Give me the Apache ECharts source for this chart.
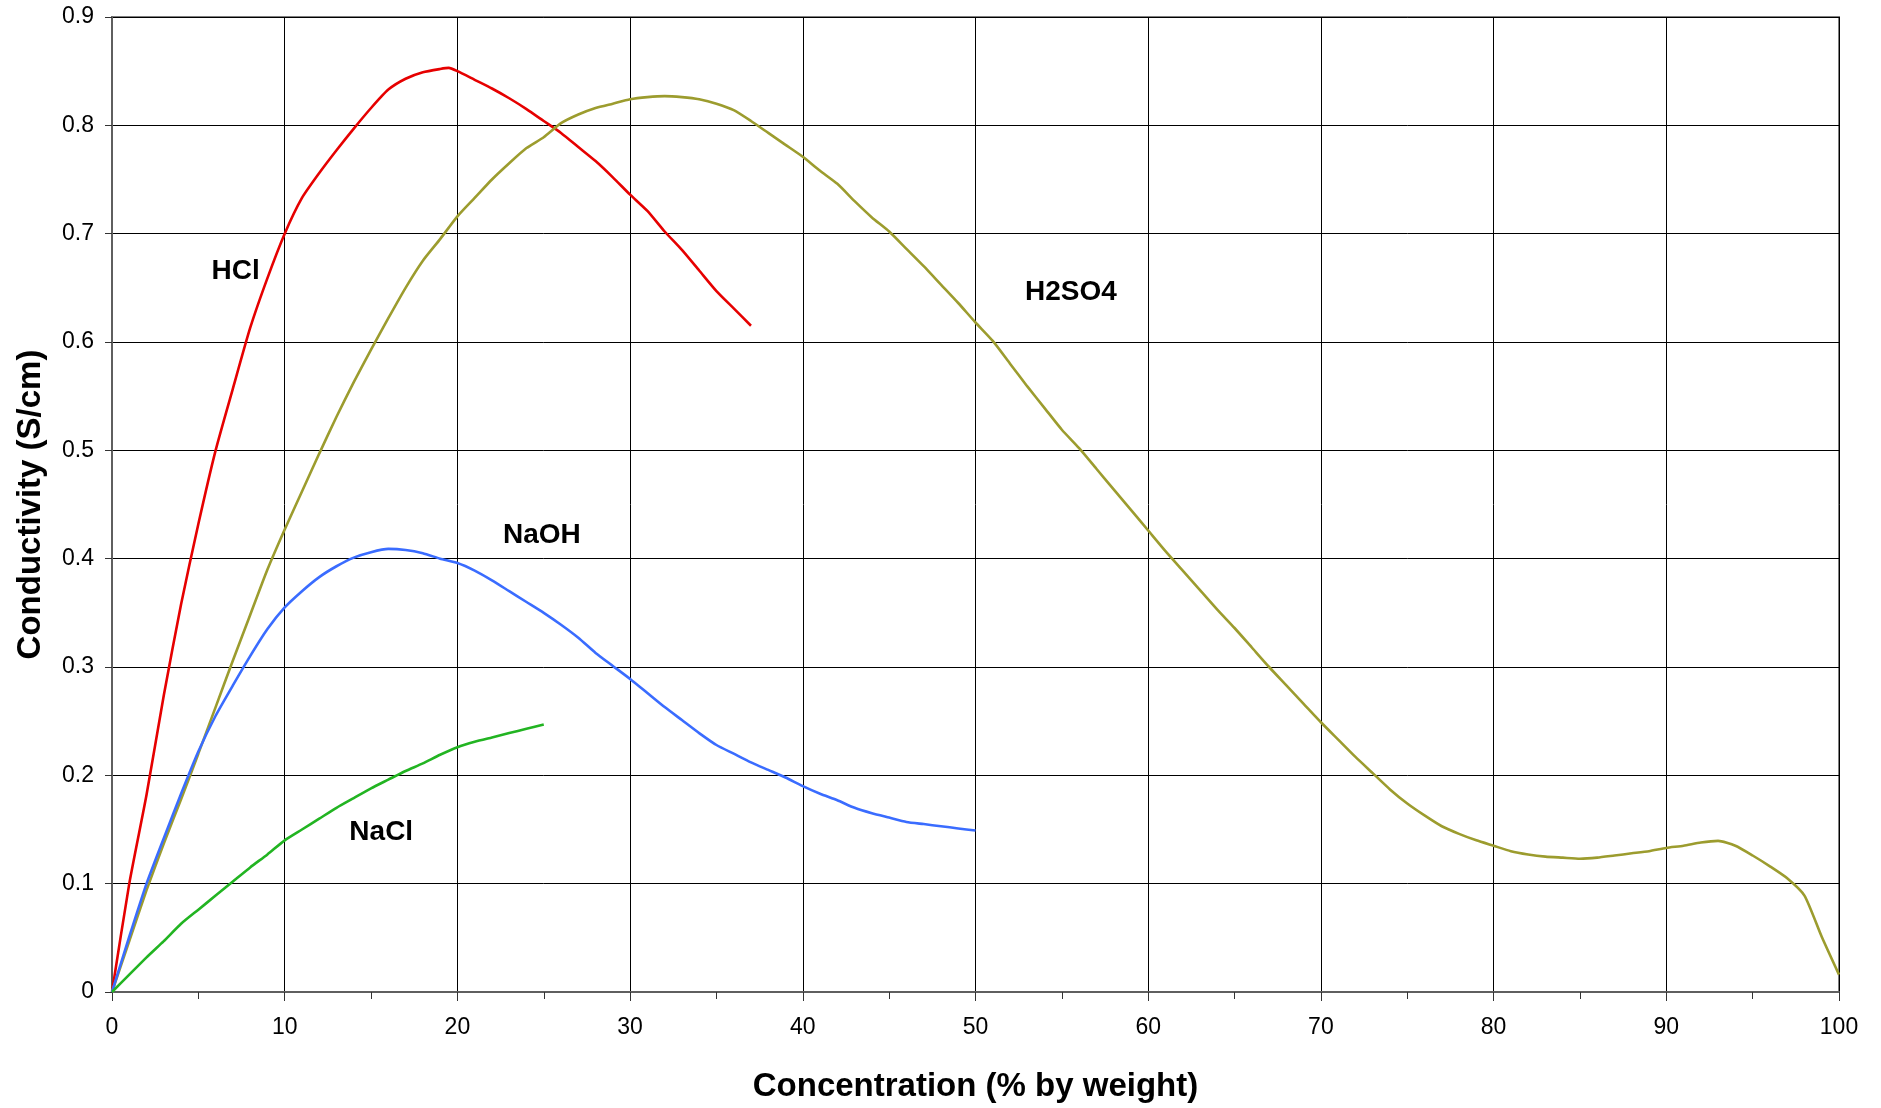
<!DOCTYPE html>
<html>
<head>
<meta charset="utf-8">
<script src="https://cdn.jsdelivr.net/npm/echarts@6/dist/echarts.min.js"></script>
<style>
html,body{margin:0;padding:0;background:#fff;}
#chart{width:1881px;height:1108px;}
</style>
</head>
<body>
<div id="chart"></div>
<script>
// Concentration (% by weight) / Conductivity (S/cm)
var hclX = [0,1,2,3,4,5,6,7,8,9,10,11,12,13,14,15,16,17,18,19,19.5,20,21,22,23,24,25,26,27,28,29,30,31,32,33,34,35,36,37];
var hclY = [0,0.1,0.182,0.274,0.358,0.432,0.5,0.557,0.613,0.659,0.7,0.733,0.756,0.777,0.797,0.816,0.833,0.843,0.849,0.852,0.853,0.85,0.842,0.834,0.825,0.815,0.804,0.793,0.78,0.767,0.752,0.736,0.721,0.702,0.685,0.666,0.647,0.631,0.615];

var h2so4X = [0,1,2,3,4,5,6,7,8,9,10,11,12,13,14,15,16,17,18,19,20,21,22,23,24,25,26,27,28,29,30,31,32,33,34,35,36,37,38,39,40,41,42,43,44,45,46,47,48,49,50,51,52,53,54,55,56,57,58,59,60,61,62,63,64,65,66,67,68,69,70,71,72,73,74,75,76,77,78,79,80,81,82,83,84,85,86,87,88,89,90,91,92,93,94,95,96,97,98,99,100];
var h2so4Y = [0,0.047,0.094,0.137,0.178,0.22,0.263,0.306,0.348,0.39,0.427,0.462,0.497,0.531,0.563,0.593,0.622,0.65,0.675,0.695,0.716,0.733,0.75,0.765,0.779,0.789,0.802,0.81,0.816,0.82,0.824,0.826,0.827,0.826,0.824,0.82,0.814,0.804,0.793,0.782,0.771,0.758,0.746,0.73,0.715,0.702,0.686,0.67,0.653,0.636,0.618,0.601,0.58,0.559,0.539,0.519,0.502,0.483,0.464,0.445,0.426,0.407,0.389,0.371,0.353,0.336,0.318,0.3,0.283,0.266,0.249,0.233,0.217,0.202,0.187,0.174,0.163,0.153,0.146,0.14,0.135,0.13,0.127,0.125,0.124,0.123,0.124,0.126,0.128,0.13,0.133,0.135,0.138,0.1395,0.135,0.126,0.116,0.105,0.089,0.051,0.016];

var naohX = [0,1,2,3,4,5,6,7,8,9,10,11,12,13,14,15,16,17,18,19,20,21,22,23,24,25,26,27,28,29,30,31,32,33,34,35,36,37,38,39,40,41,42,43,44,45,46,47,48,49,50];
var naohY = [0,0.051,0.1,0.142,0.183,0.222,0.255,0.283,0.31,0.335,0.355,0.37,0.383,0.393,0.401,0.406,0.409,0.408,0.405,0.4,0.396,0.389,0.38,0.37,0.36,0.35,0.339,0.327,0.313,0.301,0.289,0.276,0.263,0.251,0.239,0.228,0.22,0.212,0.205,0.198,0.19,0.183,0.177,0.17,0.165,0.161,0.157,0.155,0.153,0.151,0.149];

var naclX = [0,1,2,3,4,5,6,7,8,9,10,11,12,13,14,15,16,17,18,19,20,21,22,23,24,25];
var naclY = [0,0.016,0.032,0.047,0.063,0.076,0.089,0.102,0.115,0.127,0.14,0.15,0.16,0.17,0.179,0.188,0.196,0.204,0.211,0.219,0.226,0.231,0.235,0.239,0.243,0.247];

var seriesNames = ['HCl','H2SO4','NaOH','NaCl'];
var labelPos = [[7.16,0.665],[55.52,0.646],[24.89,0.422],[15.59,0.147]];
var xTicks = {min:0, max:100, interval:10};
var yTicks = {min:0, max:0.9, interval:0.1};

function pairs(xs, ys){ return xs.map(function(x,i){ return [x, ys[i]]; }); }

var colors = ['#E60000','#9C9C2E','#3A6CFF','#22B422'];
var dataSets = [pairs(hclX,hclY), pairs(h2so4X,h2so4Y), pairs(naohX,naohY), pairs(naclX,naclY)];

var FONT = '"Liberation Sans", Arial, sans-serif';

var chart = echarts.init(document.getElementById('chart'), null, {renderer:'canvas'});
chart.setOption({
  animation:false,
  backgroundColor:'#ffffff',
  grid:{left:112, right:42, top:17, bottom:108, show:true, borderColor:'#7f7f7f', borderWidth:2, containLabel:false},
  xAxis:{
    type:'value', min:xTicks.min, max:xTicks.max, interval:xTicks.interval,
    name:'Concentration (% by weight)', nameLocation:'middle', nameGap:78,
    nameTextStyle:{fontFamily:FONT, fontSize:33, fontWeight:'bold', color:'#000'},
    axisLine:{show:true, onZero:false, lineStyle:{color:'#5f5f5f', width:2}},
    axisTick:{show:true, length:9, lineStyle:{color:'#333', width:1}},
    minorTick:{show:true, splitNumber:2, length:7, lineStyle:{color:'#333', width:1}},
    axisLabel:{fontFamily:FONT, fontSize:23, color:'#000', margin:24},
    splitLine:{show:true, lineStyle:{color:'#000', width:1}}
  },
  yAxis:{
    type:'value', min:yTicks.min, max:yTicks.max, interval:yTicks.interval,
    name:'Conductivity (S/cm)', nameLocation:'middle', nameGap:65,
    nameTextStyle:{fontFamily:FONT, fontSize:33, fontWeight:'bold', color:'#000'},
    axisLine:{show:true, onZero:false, lineStyle:{color:'#5f5f5f', width:2}},
    axisTick:{show:true, length:7, lineStyle:{color:'#333', width:1}},
    axisLabel:{fontFamily:FONT, fontSize:23, color:'#000', margin:18},
    splitLine:{show:true, lineStyle:{color:'#000', width:1}}
  },
  series: seriesNames.map(function(n, i){
    return {
      name:n, type:'line', data:dataSets[i], showSymbol:false, symbol:'none', smooth:0.2,
      lineStyle:{color:colors[i], width:2.6}, z:3,
      markPoint:{
        symbol:'circle', symbolSize:0, silent:true,
        label:{show:true, formatter:n, fontFamily:FONT, fontSize:28, fontWeight:'bold', color:'#000', position:'inside'},
        data:[{coord:labelPos[i]}]
      }
    };
  })
});
</script>
</body>
</html>
